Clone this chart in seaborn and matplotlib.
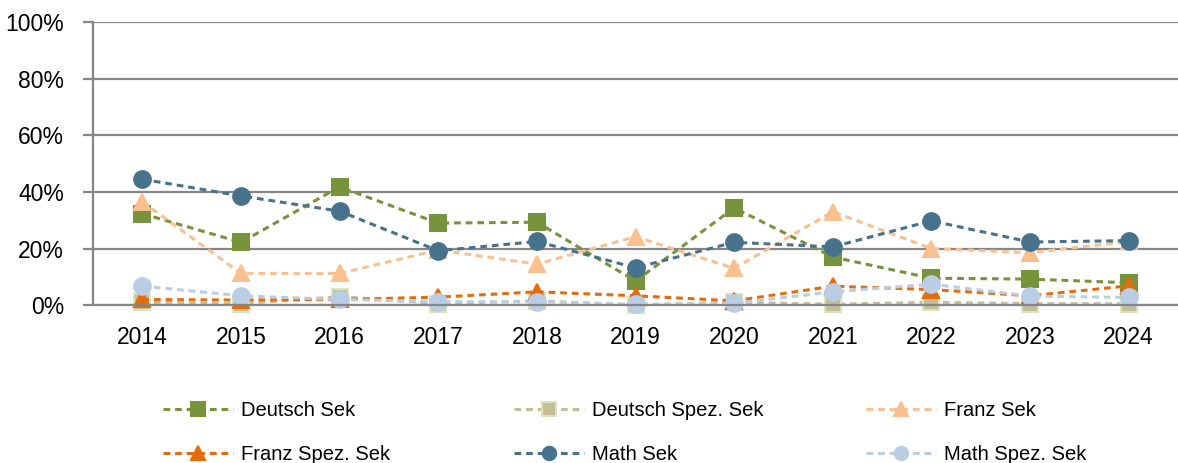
import numpy as np
import pandas as pd
import matplotlib.pyplot as plt
import seaborn as sns
from matplotlib.ticker import FixedLocator, PercentFormatter

# Data (share in %)
years = ["2014", "2015", "2016", "2017", "2018", "2019",
         "2020", "2021", "2022", "2023", "2024"]
deutsch_sek = [32.3, 22.2, 41.8, 29.0, 29.3, 8.5, 34.4, 17.0, 9.5, 9.2, 7.9]
deutsch_spez = [1.0, 0.5, 3.0, 0.5, 1.5, 0.0, 1.0, 0.3, 1.0, 0.5, 0.5]
franz_sek = [36.5, 11.2, 11.2, 19.5, 14.5, 24.2, 13.0, 33.0, 20.0, 18.5, 22.5]
franz_spez = [2.0, 1.8, 2.0, 2.8, 4.7, 3.3, 1.5, 6.7, 5.5, 3.3, 6.8]
math_sek = [44.5, 38.6, 33.2, 19.2, 22.5, 13.2, 22.2, 20.6, 29.8, 22.3, 22.8]
math_spez = [6.7, 3.3, 2.0, 1.2, 1.2, 0.3, 0.6, 4.7, 7.4, 3.2, 2.7]

series = [
    ("Deutsch Sek", deutsch_sek, "#77933C", "#77933C", "s"),
    ("Deutsch Spez. Sek", deutsch_spez, "#C4BD97", "#D7E4BD", "s"),
    ("Franz Sek", franz_sek, "#FAC090", "#FAC090", "^"),
    ("Franz Spez. Sek", franz_spez, "#E46C0A", "#E46C0A", "^"),
    ("Math Sek", math_sek, "#46728C", "#46728C", "o"),
    ("Math Spez. Sek", math_spez, "#B9CDE5", "#B9CDE5", "o"),
]

sns.set_style("white")
plt.rcParams['font.family'] = ['Liberation Sans', 'DejaVu Sans']
plt.rcParams['text.color'] = 'black'
plt.rcParams['xtick.labelcolor'] = 'black'
plt.rcParams['ytick.labelcolor'] = 'black'

fig = plt.figure(figsize=(11.78, 4.63), dpi=100)
ax = fig.add_axes([0.079, 0.341, 0.921, 0.611])

handles = []
for name, vals, color, edge, marker in series:
    df = pd.DataFrame({"pos": np.arange(len(years)), "val": np.array(vals) / 100})
    sns.lineplot(data=df, x="pos", y="val", ax=ax, color=color,
                 linestyle=(0, (2.2, 1.6)), linewidth=2.2,
                 marker=marker, markersize=12, markerfacecolor=color,
                 markeredgecolor=edge, markeredgewidth=1.5, clip_on=False)
    handles.append((ax.lines[-1], name))

ax.set_xlim(-0.5, len(years) - 0.5)
ax.set_ylim(0, 1)
ax.set_xlabel(None)
ax.set_ylabel(None)

# y axis with gridlines
ax.set_yticks(np.arange(0, 1.01, 0.2))
ax.yaxis.set_major_formatter(PercentFormatter(1.0, decimals=0))
ax.grid(axis="y", color="#868686", linewidth=1.6)
ax.set_axisbelow(True)

# x axis: labels at categories, tick marks between categories
ax.set_xticks(np.arange(len(years)))
ax.set_xticklabels(years)
ax.xaxis.set_minor_locator(FixedLocator(np.arange(-0.5, len(years), 1)))
ax.tick_params(axis="x", which="major", length=0, pad=15, labelsize=16.5)
ax.tick_params(axis="x", which="minor", length=8, width=1.6,
               color="#868686", direction="out")
ax.tick_params(axis="y", which="major", length=7, width=1.6,
               color="#868686", direction="out", pad=14, labelsize=16.5,
               left=True)

for s in ["top", "right"]:
    ax.spines[s].set_visible(False)
for s in ["left", "bottom"]:
    ax.spines[s].set_color("#868686")
    ax.spines[s].set_linewidth(1.6)

# Legend: three columns, two rows
col_x = [0.138, 0.436, 0.735]
for i, x in enumerate(col_x):
    pair = [handles[i], handles[i + 3]]
    leg = fig.legend([h for h, _ in pair], [n for _, n in pair],
                     loc="upper left", bbox_to_anchor=(x, 0.133),
                     frameon=False, fontsize=14.5, handlelength=3.5,
                     handletextpad=0.4, labelspacing=1.2,
                     markerscale=0.8, borderpad=0, borderaxespad=0)

plt.savefig("out.png", dpi=100)
